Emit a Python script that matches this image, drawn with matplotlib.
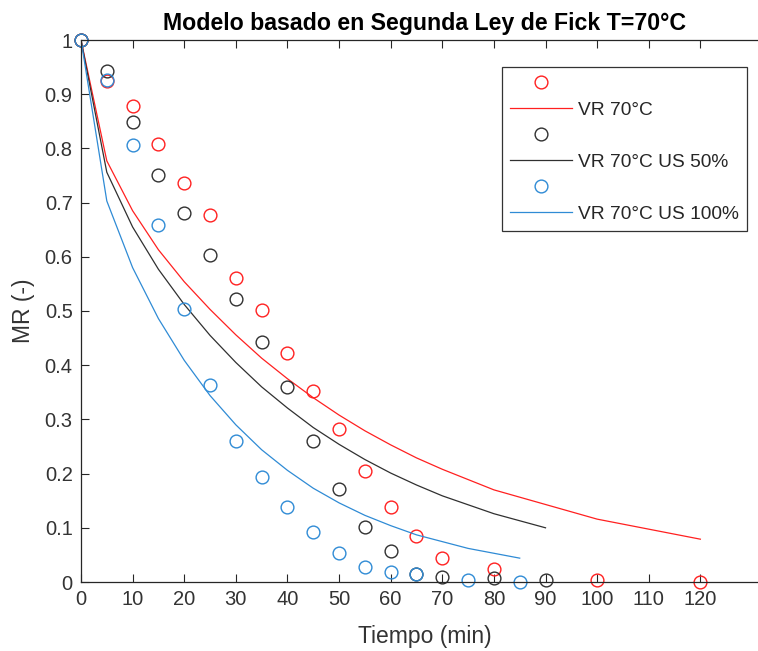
import matplotlib
matplotlib.use("Agg")
import matplotlib.pyplot as plt

plt.rcParams['font.family'] = ['Liberation Sans', 'DejaVu Sans']

# Experimental moisture ratio (MR) vs time, drying at 70 °C
t_vr = [0, 5, 10, 15, 20, 25, 30, 35, 40, 45, 50, 55, 60, 65, 70, 80, 100, 120]
mr_vr = [1.0, 0.924, 0.878, 0.808, 0.737, 0.678, 0.560, 0.501, 0.422, 0.353,
         0.282, 0.205, 0.139, 0.085, 0.044, 0.024, 0.003, 0.0]
fit_vr = [1.0, 0.777, 0.685, 0.613, 0.554, 0.503, 0.456, 0.413, 0.375, 0.340,
          0.308, 0.279, 0.253, 0.229, 0.208, 0.170, 0.116, 0.079]

t_us50 = [0, 5, 10, 15, 20, 25, 30, 35, 40, 45, 50, 55, 60, 65, 70, 80, 90]
mr_us50 = [1.0, 0.943, 0.849, 0.751, 0.680, 0.604, 0.522, 0.442, 0.359, 0.261,
           0.172, 0.101, 0.057, 0.015, 0.009, 0.007, 0.004]
fit_us50 = [1.0, 0.756, 0.655, 0.577, 0.512, 0.455, 0.405, 0.360, 0.321, 0.285,
            0.254, 0.226, 0.201, 0.179, 0.159, 0.126, 0.100]

t_us100 = [0, 5, 10, 15, 20, 25, 30, 35, 40, 45, 50, 55, 60, 65, 75, 85]
mr_us100 = [1.0, 0.926, 0.806, 0.659, 0.504, 0.364, 0.260, 0.194, 0.139, 0.092,
            0.053, 0.028, 0.018, 0.015, 0.004, 0.0]
fit_us100 = [1.0, 0.703, 0.580, 0.486, 0.409, 0.344, 0.290, 0.244, 0.206, 0.173,
             0.146, 0.123, 0.104, 0.087, 0.062, 0.044]

labels = ["VR 70°C", "VR 70°C US 50%", "VR 70°C US 100%"]
colors = ["#FF2020", "#303030", "#2F8BD5"]

x_ticks = list(range(0, 121, 10))
y_ticks = [0, 0.1, 0.2, 0.3, 0.4, 0.5, 0.6, 0.7, 0.8, 0.9, 1]
y_ticklabels = ["0", "0.1", "0.2", "0.3", "0.4", "0.5", "0.6", "0.7", "0.8", "0.9", "1"]

W, H = 758, 651
fig = plt.figure(figsize=(W / 100, H / 100), dpi=100)
left, right, top, bottom = 81, 769, 40, 582
ax = fig.add_axes([left / W, (H - bottom) / H, (right - left) / W, (bottom - top) / H])

series = [(t_vr, mr_vr, fit_vr), (t_us50, mr_us50, fit_us50), (t_us100, mr_us100, fit_us100)]
for (t, mr, fit), lab, c in zip(series, labels, colors):
    ax.plot(t, mr, linestyle='none', marker='o', markersize=9.2, markerfacecolor='none',
            markeredgecolor=c, markeredgewidth=1.0, label=' ', clip_on=False)
    ax.plot(t, fit, color=c, linewidth=0.9, label=lab)

ax.set_xlim(0, 133.3)
ax.set_ylim(0, 1)
ax.set_xticks(x_ticks)
ax.set_xticklabels([str(v) for v in x_ticks])
ax.set_yticks(y_ticks)
ax.set_yticklabels(y_ticklabels)

axis_col = "#262626"
for s in ax.spines.values():
    s.set_color(axis_col)
    s.set_linewidth(0.9)
ax.tick_params(direction='in', length=6, width=0.8, colors=axis_col, labelsize=14.5,
               top=True, right=True, pad=6)
for lbl in ax.get_xticklabels() + ax.get_yticklabels():
    lbl.set_color("#333333")

ax.set_xlabel("Tiempo (min)", fontsize=16.5, color="#333333", labelpad=11)
ax.set_ylabel("MR (-)", fontsize=16.5, color="#333333", labelpad=7)
ax.set_title("Modelo basado en Segunda Ley de Fick T=70°C", fontsize=16.7,
             fontweight='bold', pad=7)

leg = ax.legend(loc='upper right', bbox_to_anchor=(747 / W, 1 - 67 / H),
                bbox_transform=fig.transFigure, borderaxespad=0, fontsize=13.8,
                frameon=True, fancybox=False, framealpha=1, edgecolor="#333333",
                handlelength=3.2, handletextpad=0.34, labelspacing=0.45,
                borderpad=0.42)
leg.get_frame().set_linewidth(0.9)
for txt in leg.get_texts():
    txt.set_color("#262626")

fig.savefig("out.png", dpi=100)
